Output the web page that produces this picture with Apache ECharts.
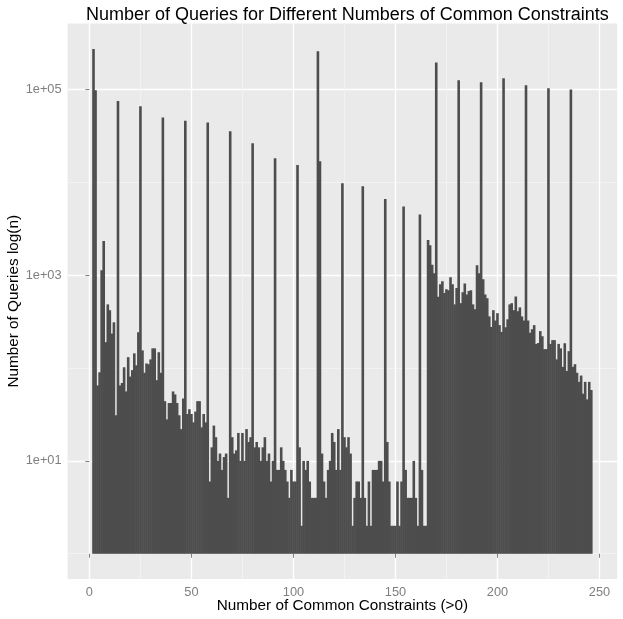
<!DOCTYPE html>
<html><head><meta charset="utf-8">
<script src="https://cdn.jsdelivr.net/npm/echarts@6/dist/echarts.min.js"></script>
<style>html,body{margin:0;padding:0;background:#fff}#c{width:623px;height:619px}</style>
</head><body><div id="c"></div>
<script>
// Number of queries for each number of common constraints, x = 2 .. 246
const firstConstraint = 2;
const counts_002_050 = [274000, 98000, 65, 90, 1130, 2330, 190, 485, 420, 235,
  311, 31, 75000, 65, 69, 102, 56, 131, 81, 95,
  144, 107, 243, 66000, 155, 89, 112, 110, 124, 163,
  163, 74, 148, 89, 50000, 44, 28, 42, 42, 56,
  52, 42, 31, 22, 47, 46000, 32, 36, 32];
const counts_051_100 = [26, 34, 44, 44, 23, 32, 26, 44000, 6, 14,
  24, 18, 10, 12, 8, 11, 12, 4, 35500, 18,
  12, 13, 20, 10, 20, 10, 22, 16, 18, 26400,
  14, 16, 14, 10, 14, 18, 10, 12, 6, 10,
  18200, 8, 8, 14, 10, 8, 6, 4, 8, 6];
const counts_101_150 = [6, 15400, 14, 2, 10, 8, 10, 6, 4, 4,
  4, 258000, 16900, 12, 6, 4, 8, 10, 20, 16,
  8, 22, 8, 9800, 18, 14, 18, 12, 2, 4,
  6, 6, 4, 9100, 4, 2, 6, 2, 8, 8,
  8, 10, 10, 6, 6600, 16, 6, 2, 2, 2];
const counts_151_200 = [6, 2, 6, 5500, 8, 4, 4, 4, 10, 4,
  2, 4500, 8, 2, 2, 2400, 2100, 1300, 1050, 196000,
  585, 800, 860, 645, 705, 690, 950, 800, 485, 730,
  126000, 500, 655, 815, 620, 675, 690, 485, 430, 1280,
  1050, 120000, 905, 620, 565, 360, 277, 420, 325, 390];
const counts_201_246 = [290, 245, 132000, 275, 335, 485, 500, 420, 590, 410,
  450, 360, 325, 111000, 325, 240, 262, 290, 182, 186,
  250, 220, 160, 160, 103000, 182, 200, 200, 124, 182,
  163, 103, 185, 93, 152, 100000, 103, 110, 89, 71,
  83, 53, 71, 46, 71, 58];

const xTickValues = [0, 50, 100, 150, 200, 250];
const xMinorValues = [25, 75, 125, 175, 225];
const yTickExponents = [1, 3, 5];
const yMinorExponents = [0, 2, 4];

const counts = [].concat(counts_002_050, counts_051_100, counts_101_150, counts_151_200, counts_201_246);
const barData = counts.map((c, i) => [firstConstraint + i, Math.log10(c)]);

const FONT = '"Liberation Sans", Arial, Helvetica, sans-serif';
const chart = echarts.init(document.getElementById('c'), null, {renderer: 'canvas'});
const xMin = -10.7, xMax = 258.7, yMin = -0.272, yMax = 5.71;

chart.setOption({
  animation: false,
  backgroundColor: '#ffffff',
  title: {
    text: 'Number of Queries for Different Numbers of Common Constraints',
    left: 342.4, top: 1, textAlign: 'center',
    textStyle: {fontFamily: FONT, fontSize: 18, fontWeight: 'normal', color: '#000'}
  },
  grid: {left: 67.6, right: 5.8, top: 23.6, bottom: 40, show: true, backgroundColor: '#EAEAEA', borderWidth: 0,
    containLabel: false, outerBoundsMode: 'none'},
  xAxis: [{
    type: 'value', min: xMin, max: xMax,
    name: 'Number of Common Constraints (>0)', nameLocation: 'middle', nameGap: 19, nameMoveOverlap: false,
    nameTextStyle: {fontFamily: FONT, fontSize: 15.3, color: '#000'},
    axisLine: {show: false},
    axisTick: {show: true, customValues: xTickValues, length: 4, lineStyle: {color: '#7F7F7F', width: 1}},
    axisLabel: {customValues: xTickValues, margin: 6.5, fontFamily: FONT, fontSize: 12.8, color: '#7F7F7F'},
    splitLine: {show: true, lineStyle: {color: '#FFFFFF', width: 1.4}}
  }, {
    type: 'value', min: xMin, max: xMax, position: 'bottom',
    axisLine: {show: false}, axisLabel: {show: false},
    axisTick: {show: false, customValues: xMinorValues},
    splitLine: {show: true, lineStyle: {color: '#F4F4F4', width: 0.8}}
  }],
  yAxis: [{
    type: 'value', min: yMin, max: yMax,
    name: 'Number of Queries log(n)', nameLocation: 'middle', nameGap: 46, nameRotate: 90, nameMoveOverlap: false,
    nameTextStyle: {fontFamily: FONT, fontSize: 15.3, color: '#000'},
    axisLine: {show: false},
    axisTick: {show: true, customValues: yTickExponents, length: 4, lineStyle: {color: '#7F7F7F', width: 1}},
    axisLabel: {customValues: yTickExponents, margin: 6, fontFamily: FONT, fontSize: 12.8, color: '#7F7F7F',
      formatter: v => '1e+' + String(Math.round(v)).padStart(2, '0')},
    splitLine: {show: true, lineStyle: {color: '#FFFFFF', width: 1.4}}
  }, {
    type: 'value', min: yMin, max: yMax, position: 'left',
    axisLine: {show: false}, axisLabel: {show: false},
    axisTick: {show: false, customValues: yMinorExponents},
    splitLine: {show: true, lineStyle: {color: '#F4F4F4', width: 0.8}}
  }],
  series: [{
    type: 'bar', xAxisIndex: 0, yAxisIndex: 0,
    data: barData, barWidth: 2.6,
    itemStyle: {color: '#4D4D4D'},
    emphasis: {disabled: true}
  }]
});
</script></body></html>
